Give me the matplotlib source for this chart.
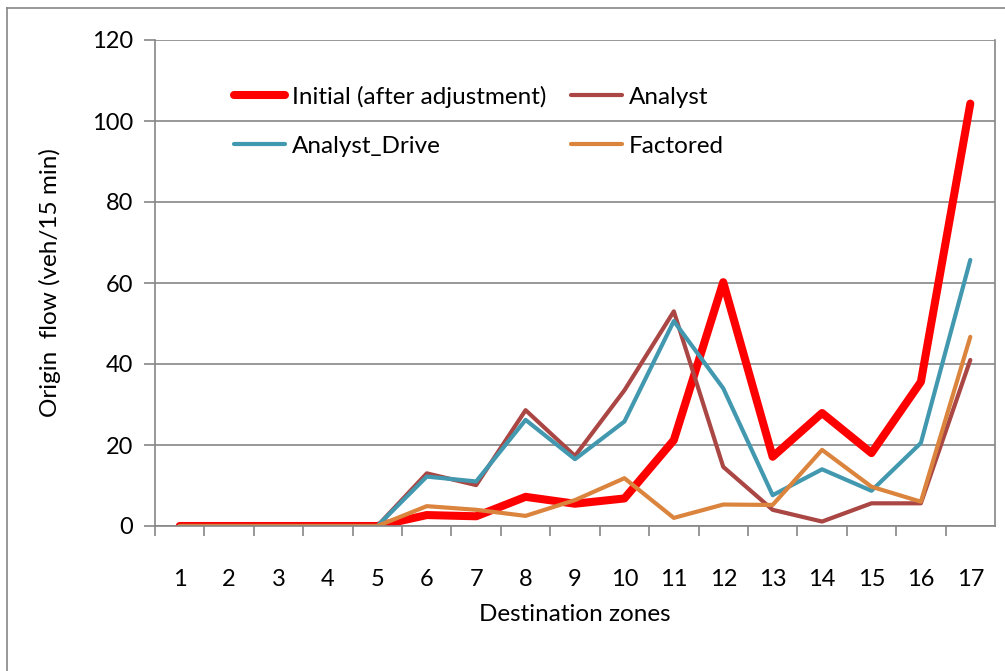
import matplotlib.pyplot as plt
from matplotlib.lines import Line2D

zones = list(range(1, 18))
initial = [0, 0, 0, 0, 0, 2.7, 2.4, 7.2, 5.5, 6.8, 21.2, 60.2, 17.1, 27.9, 18.0, 35.6, 104.3]
analyst = [0, 0, 0, 0, 0, 13.0, 10.1, 28.6, 17.3, 33.5, 53.0, 14.6, 4.0, 1.1, 5.6, 5.6, 41.0]
analyst_drive = [0, 0, 0, 0, 0, 12.2, 11.0, 26.2, 16.5, 25.8, 50.6, 34.0, 7.6, 14.0, 8.7, 20.5, 65.7]
factored = [0, 0, 0, 0, 0, 4.9, 4.0, 2.5, 6.4, 11.8, 2.0, 5.3, 5.2, 18.8, 9.7, 6.0, 46.7]

plt.rcParams['font.family'] = ['Lato', 'DejaVu Sans']

fig = plt.figure(figsize=(10.05, 6.71), dpi=100)
ax = fig.add_axes([155 / 1005, 1 - 526 / 671, 840 / 1005, 486 / 671])

# outer frame of the chart (only top and left edges are inside the picture)
fx0, fy1 = 7 / 1005, 1 - 8 / 671
for xs, ys in [([fx0, 1.0], [fy1, fy1]), ([fx0, fx0], [0.0, fy1])]:
    fig.lines.append(Line2D(xs, ys, transform=fig.transFigure, color='#868686', linewidth=1.2))

l1, = ax.plot(zones, initial, color='#FF0000', linewidth=5.8,
              solid_capstyle='round', solid_joinstyle='round', label='Initial (after adjustment)')
l2, = ax.plot(zones, analyst, color='#AA4643', linewidth=3,
              solid_capstyle='round', solid_joinstyle='round', label='Analyst')
l3, = ax.plot(zones, analyst_drive, color='#4198AF', linewidth=3,
              solid_capstyle='round', solid_joinstyle='round', label='Analyst_Drive')
l4, = ax.plot(zones, factored, color='#DB843D', linewidth=3,
              solid_capstyle='round', solid_joinstyle='round', label='Factored')

ax.set_xlim(0.5, 17.5)
ax.set_ylim(0, 120)
ax.set_yticks(range(0, 121, 20))
ax.set_xticks(zones)
ax.set_xticks([z + 0.5 for z in range(0, 17)], minor=True)
ax.tick_params(axis='x', which='major', length=0, labelsize=17, pad=31)
ax.tick_params(axis='x', which='minor', length=7, color='#868686', width=1.2)
ax.tick_params(axis='y', length=8, color='#868686', width=1.2, labelsize=17, pad=8)

ax.grid(axis='y', color='#868686', linewidth=1.2)
ax.set_axisbelow(True)
for side in ['left', 'bottom', 'right']:
    ax.spines[side].set_color('#868686')
    ax.spines[side].set_linewidth(1.2)
ax.spines['top'].set_visible(False)

ax.set_xlabel('Destination zones', fontsize=17.5, labelpad=10)
ax.set_ylabel('Origin  flow (veh/15 min)', fontsize=17.5, labelpad=22)

ax.legend([l1, l3, l2, l4], [l1.get_label(), l3.get_label(), l2.get_label(), l4.get_label()],
          ncol=2, frameon=False, fontsize=17.5, loc='upper left',
          bbox_to_anchor=(212 / 1005, 1 - 64 / 671), bbox_transform=fig.transFigure,
          handlelength=2.1, handletextpad=0.3, columnspacing=1.0, labelspacing=1.15)

fig.savefig('out.png', dpi=100)
